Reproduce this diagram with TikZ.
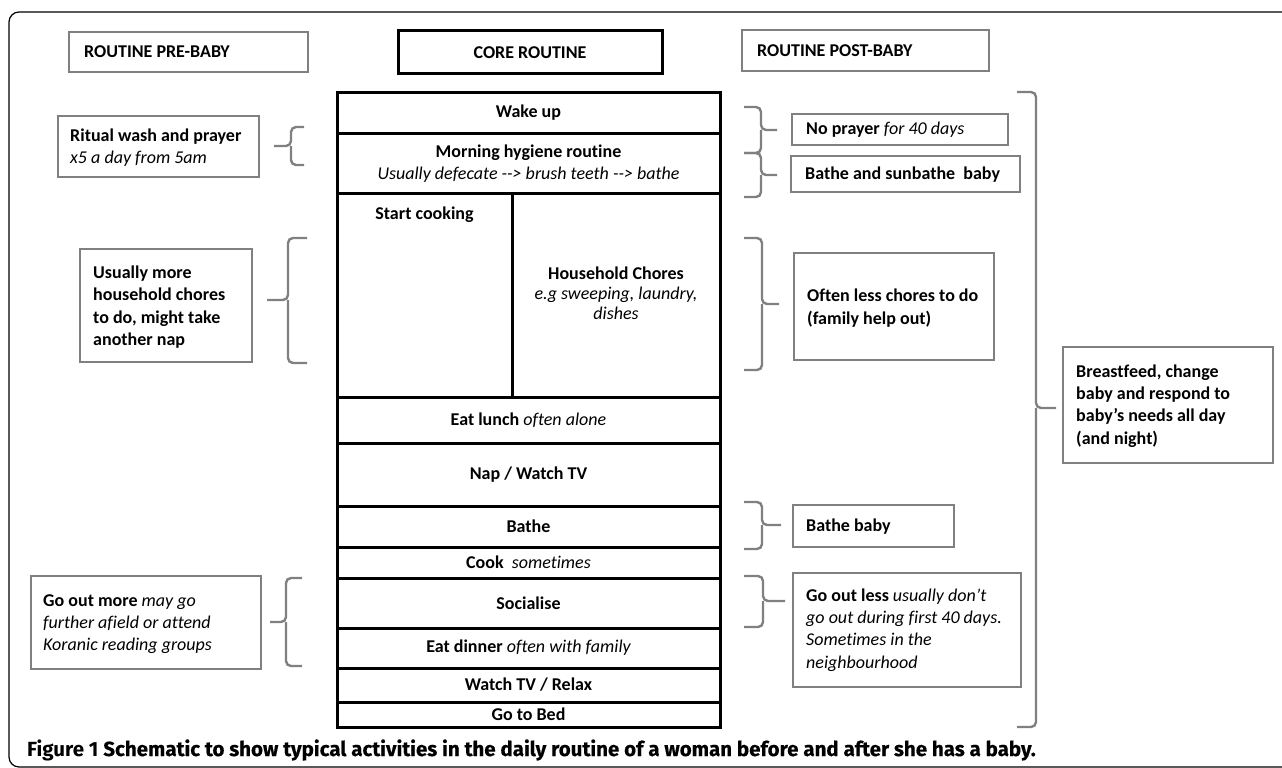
\documentclass[tikz,border=0pt]{standalone}
\usepackage{fontspec}
\setmainfont[Ligatures={TeX,NoCommon}]{Carlito}
\newfontfamily\capfont{Fira Sans}
\newfontfamily\capsemi[FakeBold=0.3]{Fira Sans}
\definecolor{boxgray}{RGB}{128,128,128}
\begin{document}
\begin{tikzpicture}[x=1pt,y=-1pt,
  gbox/.style={draw=boxgray, line width=2.4pt},
  cbox/.style={draw=black, line width=3pt},
  lbl/.style={inner sep=0pt, align=left, font=\fontsize{18}{22.3}\selectfont},
  ctr/.style={inner sep=0pt, align=center, font=\fontsize{18}{22}\selectfont},
  brc/.style={draw=boxgray, line width=2.4pt, rounded corners=5pt}]
\useasboundingbox (0,0) rectangle (1282,768);
% frame
\draw[line width=1.2pt, rounded corners=10pt] (1290,12) -- (9,12) -- (9,767) -- (1290,767);
% headers
\draw[gbox] (69,32) rectangle (308,72);
\node[lbl, anchor=west] (hpre) at (84,52) {\bfseries ROUTINE PRE-BABY};
\draw[cbox] (398,31) rectangle (662,74);
\node[ctr] (hcore) at (530,52.5) {\bfseries CORE ROUTINE};
\draw[gbox] (742,30) rectangle (989,71);
\node[lbl, anchor=west] (hpost) at (757,51) {\bfseries ROUTINE POST-BABY};
% core column
\draw[cbox] (337,92) rectangle (720,133);
\node[ctr] (wake) at (528.5,112.5) {\bfseries Wake up};
\draw[cbox] (337,133) rectangle (720,193);
\node[ctr] (hyg) at (528.5,164) {\bfseries Morning hygiene routine\\ \itshape Usually defecate -{}-{}> brush teeth -{}-{}> bathe};
\draw[cbox] (337,193) rectangle (512,397);
\node[ctr, anchor=north] (cook1) at (424.5,207) {\bfseries Start cooking};
\draw[cbox] (512,193) rectangle (720,397);
\node[ctr, font=\fontsize{18}{20}\selectfont] (chores) at (616,293) {\bfseries Household Chores\\ \itshape e.g sweeping, laundry,\\ \itshape dishes};
\draw[cbox] (337,397) rectangle (720,443);
\node[ctr] (lunch) at (528.5,420) {\bfseries Eat lunch \mdseries\itshape often alone};
\draw[cbox] (337,443) rectangle (720,506);
\node[ctr] (nap) at (528.5,474.5) {\bfseries Nap / Watch TV};
\draw[cbox] (337,506) rectangle (720,547);
\node[ctr] (bathe) at (528.5,526.5) {\bfseries Bathe};
\draw[cbox] (337,547) rectangle (720,578);
\node[ctr] (cook2) at (528.5,562.5) {\bfseries Cook \ \mdseries\itshape sometimes};
\draw[cbox] (337,578) rectangle (720,628);
\node[ctr] (social) at (528.5,603) {\bfseries Socialise};
\draw[cbox] (337,628) rectangle (720,668);
\node[ctr] (dinner) at (528.5,648) {\bfseries Eat dinner \mdseries\itshape often with family};
\draw[cbox] (337,668) rectangle (720,702);
\node[ctr] (tv) at (528.5,685) {\bfseries Watch TV / Relax};
\draw[cbox] (337,702) rectangle (720,727);
\node[ctr] (bed) at (528.5,714.5) {\bfseries Go to Bed};
% left boxes
\draw[gbox] (58,116) rectangle (259,177);
\node[lbl, anchor=west] (ritual) at (70,147.5) {\bfseries Ritual wash and prayer\\ \itshape x5 a day from 5am};
\draw[gbox] (80,249) rectangle (252,362);
\node[lbl, anchor=west] (more) at (93,307) {\bfseries Usually more\\ \bfseries household chores\\ \bfseries to do, might take\\ \bfseries another nap};
\draw[gbox] (31,576) rectangle (261,669);
\node[lbl, anchor=west] (goout) at (43,624) {\bfseries Go out more \mdseries\itshape may go\\ \itshape further afield or attend\\ \itshape Koranic reading groups};
% left braces
\draw[brc] (304,127) -- (291,127) -- (291,146) -- (274,146);
\draw[brc] (291,146) -- (291,165) -- (304,165);
\draw[brc] (307,238) -- (288,238) -- (288,300) -- (267,300);
\draw[brc] (288,300) -- (288,363) -- (307,363);
\draw[brc] (302,578) -- (286,578) -- (286,622) -- (270,622);
\draw[brc] (286,622) -- (286,666) -- (302,666);
% right boxes
\draw[gbox] (792,114) rectangle (1008,145);
\node[lbl, anchor=west] (noprayer) at (806,130) {\bfseries No prayer \mdseries\itshape for 40 days};
\draw[gbox] (791,156) rectangle (1020,192);
\node[lbl, anchor=west] (sunbathe) at (805,174.5) {\bfseries Bathe and sunbathe \ baby};
\draw[gbox] (794,253) rectangle (994,360);
\node[lbl, anchor=west] (less) at (807,308) {\bfseries Often less chores to do\\ \bfseries (family help out)};
\draw[gbox] (1063,347) rectangle (1273,463);
\node[lbl, anchor=west] (breast) at (1076,406) {\bfseries Breastfeed, change\\ \bfseries baby and respond to\\ \bfseries baby's needs all day\\ \bfseries (and night)};
\draw[gbox] (793,505) rectangle (954,547);
\node[lbl, anchor=west] (bbaby) at (806,526.5) {\bfseries Bathe baby};
\draw[gbox] (793,573) rectangle (1021,687);
\node[lbl, anchor=west] (less2) at (806,630) {\bfseries Go out less \mdseries\itshape usually don't\\ \itshape go out during first 40 days.\\ \itshape Sometimes in the\\ \itshape neighbourhood};
% right braces
\draw[brc] (744,107) -- (761,107) -- (761,130) -- (777,130);
\draw[brc] (761,130) -- (761,153) -- (744,153);
\draw[brc] (744,153) -- (761,153) -- (761,175) -- (777,175);
\draw[brc] (761,175) -- (761,197) -- (744,197);
\draw[brc] (744,238) -- (762,238) -- (762,304) -- (779,304);
\draw[brc] (762,304) -- (762,370) -- (744,370);
\draw[brc] (744,502) -- (762,502) -- (762,525) -- (781,525);
\draw[brc] (762,525) -- (762,549) -- (744,549);
\draw[brc] (744,576) -- (763,576) -- (763,601) -- (785,601);
\draw[brc] (763,601) -- (763,627) -- (744,627);
\draw[brc] (1017,92) -- (1036,92) -- (1036,408) -- (1056,408);
\draw[brc] (1036,408) -- (1036,727) -- (1017,727);
% caption
\node[inner sep=0pt, anchor=west, font=\fontsize{20.5}{24}\selectfont] (cap) at (27,750) {\capfont\bfseries Figure 1 \capsemi Schematic to show typical activities in the daily routine of a woman before and after she has a baby.};
\end{tikzpicture}
\end{document}
